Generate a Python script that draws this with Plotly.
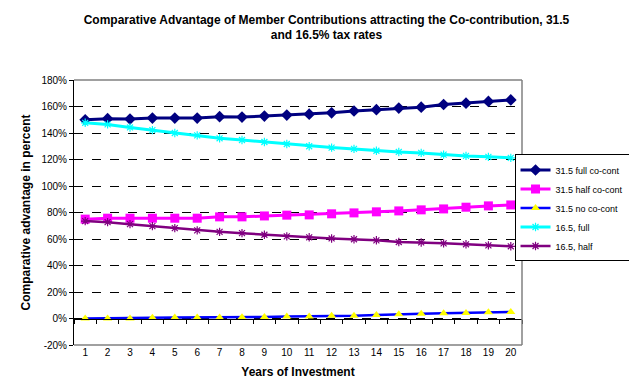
import plotly.graph_objects as go

years = list(range(1, 21))
full_315 = [150, 150.8, 150.5, 151.3, 151.3, 151.3, 152.3, 152, 152.8, 153.5,
            154.2, 155.2, 156.6, 157.6, 158.8, 159.5, 161.5, 162.5, 163.8, 165]
half_315 = [75, 75.7, 75.7, 75.7, 75.7, 75.7, 76.7, 76.7, 77.4, 78,
            78.2, 79, 79.7, 80.5, 81.2, 82, 82.7, 84, 85, 85.7]
none_315 = [0, 0, 0, 0.5, 0.8, 0.8, 0.8, 1, 1.2, 1.5,
            1.5, 2, 2, 2.6, 3.3, 3.5, 4, 4.2, 4.8, 5]
full_165 = [147.7, 146.5, 144.2, 142.2, 140, 138.2, 136, 134.7, 133.2, 131.7,
            130, 129, 128, 126.6, 125.7, 125, 123.7, 122.7, 122, 121.2]
half_165 = [73.5, 72.7, 71.2, 69.7, 68.2, 66.5, 65.4, 64.4, 63.2, 62,
            61.3, 60.4, 59.8, 59, 57.7, 57.4, 56.7, 56, 55.2, 54.5]

names = ["31.5 full co-cont", "31.5 half co-cont", "31.5 no co-cont", "16.5, full", "16.5, half"]
y_ticks = list(range(-20, 181, 20))
x_edges = [i + 0.5 for i in range(0, 21)]

FONT = "Liberation Sans, Arial, sans-serif"

fig = go.Figure()
fig.add_trace(go.Scatter(x=years, y=full_315, name=names[0], mode="lines+markers",
                         line=dict(color="#000080", width=3),
                         marker=dict(symbol="diamond", size=9, color="#000080")))
fig.add_trace(go.Scatter(x=years, y=half_315, name=names[1], mode="lines+markers",
                         line=dict(color="#FF00FF", width=3),
                         marker=dict(symbol="square", size=9, color="#FF00FF")))
fig.add_trace(go.Scatter(x=years, y=none_315, name=names[2], mode="lines+markers",
                         line=dict(color="#0000FF", width=2.5),
                         marker=dict(symbol="triangle-up", size=8, color="#FFFF00",
                                     line=dict(width=0))))
fig.add_trace(go.Scatter(x=years, y=full_165, name=names[3], mode="lines+markers",
                         line=dict(color="#00FFFF", width=3),
                         marker=dict(symbol="asterisk-open", size=7,
                                     line=dict(color="#00FFFF", width=1.2))))
fig.add_trace(go.Scatter(x=years, y=half_165, name=names[4], mode="lines+markers",
                         line=dict(color="#800080", width=2.5),
                         marker=dict(symbol="asterisk-open", size=7,
                                     line=dict(color="#800080", width=1.2))))
# helper trace for the category axis drawn at 0%
fig.add_trace(go.Scatter(x=[None], y=[None], xaxis="x2", showlegend=False,
                         hoverinfo="skip"))

fig.update_layout(
    width=637, height=391,
    margin=dict(l=66, r=123, t=72, b=54, autoexpand=False),
    paper_bgcolor="white", plot_bgcolor="white",
    font=dict(family=FONT, size=11, color="black"),
    title=dict(text="<b>Comparative Advantage of Member Contributions attracting the Co-contribution, 31.5<br>and 16.5% tax rates</b>",
               x=0.5, xanchor="center", y=0.96, yanchor="top",
               font=dict(family=FONT, size=12, color="black")),
    xaxis=dict(range=[0.5, 20.5], tickmode="array", tickvals=years,
               ticktext=[str(v) for v in years], showgrid=False, zeroline=False,
               showline=False, ticks="", tickfont=dict(size=10),
               title=dict(text="<b>Years of Investment</b>", font=dict(size=12), standoff=10)),
    xaxis2=dict(range=[0.5, 20.5], overlaying="x", anchor="free", position=0.1,
                side="bottom", tickmode="array", tickvals=x_edges, showticklabels=False,
                ticks="outside", ticklen=4, tickcolor="black", showline=True,
                linecolor="black", linewidth=1, showgrid=False, zeroline=False),
    yaxis=dict(range=[-20, 180], tickmode="array", tickvals=y_ticks,
               ticktext=[f"{v}%" for v in y_ticks], showgrid=True,
               gridcolor="black", griddash="dash", gridwidth=1, zeroline=False,
               showline=True, linecolor="black", linewidth=1, ticks="outside",
               ticklen=4, tickcolor="black", tickfont=dict(size=10),
               title=dict(text="<b>Comparative advantage in percent</b>", font=dict(size=12), standoff=8)),
    legend=dict(x=1.24, y=0.517, xanchor="right", yanchor="middle",
                bordercolor="black", borderwidth=1, bgcolor="white",
                font=dict(size=9), tracegroupgap=0, itemwidth=30),
    shapes=[
        dict(type="line", xref="x domain", yref="y domain", x0=0, x1=1, y0=1, y1=1,
             line=dict(color="#808080", width=1.5), layer="above"),
        dict(type="line", xref="x domain", yref="y domain", x0=1, x1=1, y0=0, y1=1,
             line=dict(color="#808080", width=1.5), layer="above"),
        dict(type="line", xref="x domain", yref="y domain", x0=0, x1=1, y0=0, y1=0,
             line=dict(color="#808080", width=1.5), layer="above"),
    ],
)

fig.write_html("out.html")
